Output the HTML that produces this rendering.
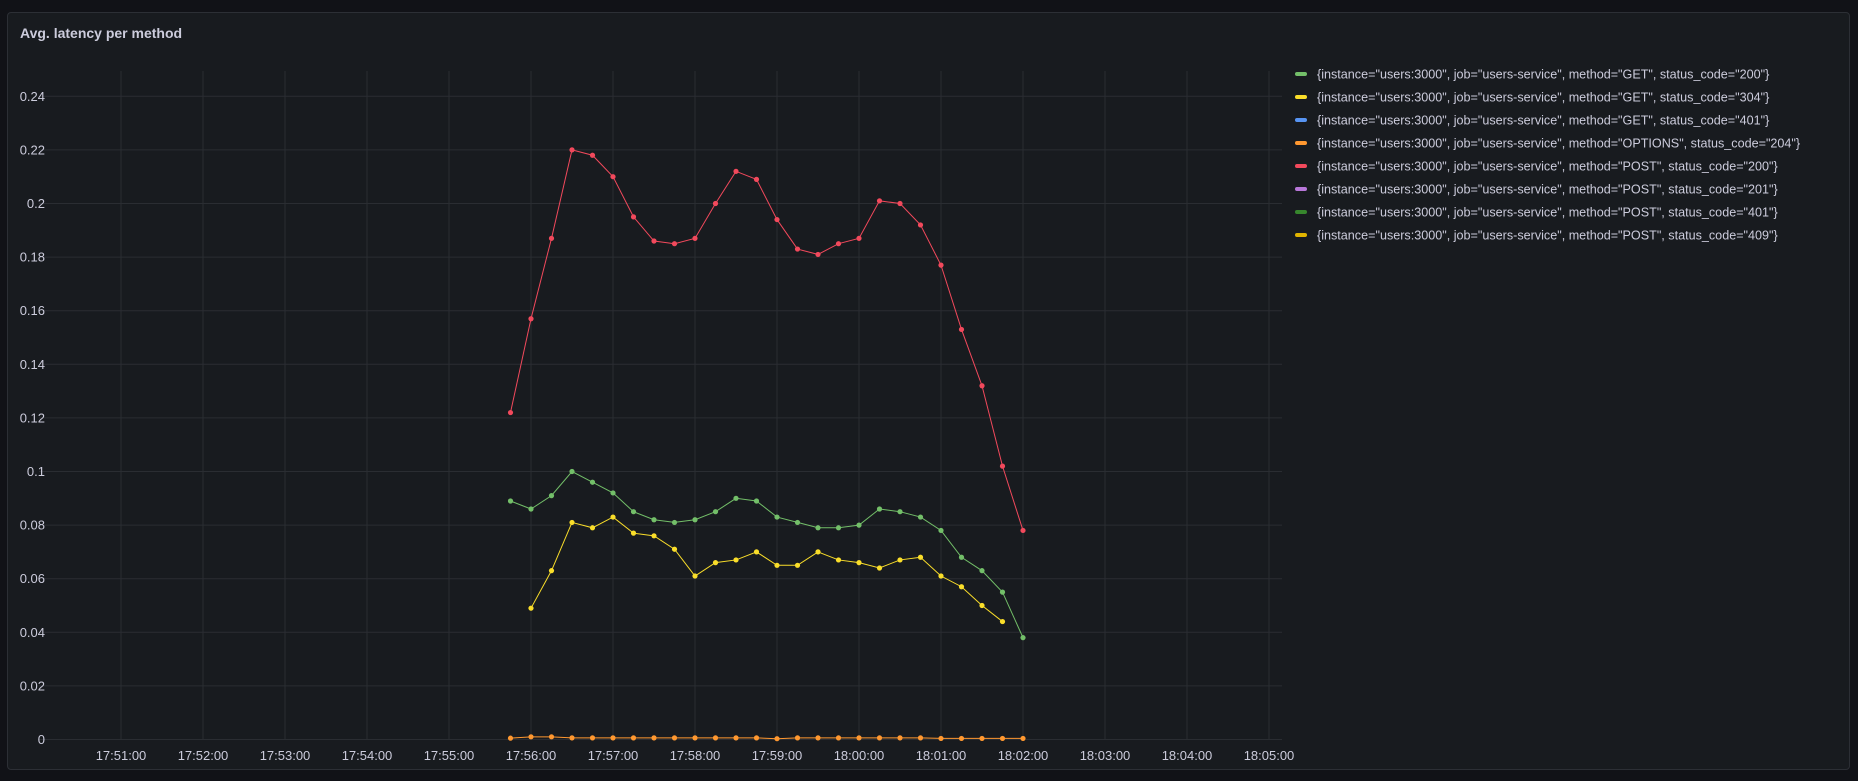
<!DOCTYPE html>
<html><head><meta charset="utf-8"><style>
body{margin:0;background:#111217;width:1858px;height:781px;overflow:hidden;font-family:"Liberation Sans",sans-serif;}
#p{position:absolute;left:7px;top:12px;width:1843px;height:758px;background:#181b1f;border:1px solid #2c2f35;border-radius:4px;box-sizing:border-box}
</style></head><body>
<div id="p"></div>
<svg id="s" width="1858" height="781" style="position:absolute;left:0;top:0" font-family="Liberation Sans, sans-serif"></svg>
<script>
const s=document.getElementById('s');let h='';
h+='<text x="20" y="38" fill="#ccccdc" font-size="14" font-weight="bold">Avg. latency per method</text>';
const Y=v=>739.5-v*2680, X0=121, PM=82;
for(let i=0;i<=12;i++){const v=i*0.02,y=Y(v);h+=`<line x1="39" x2="1282" y1="${y}" y2="${y}" stroke="#2a2d32"/>`;
h+=`<text x="45" y="${y+4.5}" fill="#ccccdc" font-size="13" text-anchor="end">${i==0?'0':+v.toFixed(2)}</text>`;}
const lab=['17:51:00','17:52:00','17:53:00','17:54:00','17:55:00','17:56:00','17:57:00','17:58:00','17:59:00','18:00:00','18:01:00','18:02:00','18:03:00','18:04:00','18:05:00'];
lab.forEach((l,i)=>{const x=X0+i*PM;h+=`<line x1="${x}" x2="${x}" y1="71" y2="740" stroke="#2a2d32"/>`;
h+=`<text x="${x}" y="760" fill="#ccccdc" font-size="13" text-anchor="middle">${l}</text>`;});
const tx=k=>X0+5*PM+(k-1)*PM/4;
function ser(st,vals,c){let pts=vals.map((v,i)=>[tx(st+i),Y(v)]);
h+=`<polyline fill="none" stroke="${c}" stroke-width="1" points="${pts.map(p=>p.join(',')).join(' ')}"/>`;
pts.forEach(p=>h+=`<circle cx="${p[0]}" cy="${p[1]}" r="2.6" fill="${c}"/>`);}
ser(0,[0.0005,0.001,0.001,0.0006,0.0006,0.0006,0.0006,0.0006,0.0006,0.0006,0.0006,0.0006,0.0006,0.0003,0.0006,0.0006,0.0006,0.0006,0.0006,0.0006,0.0006,0.0004,0.0004,0.0004,0.0004,0.0004],'#ff9830');
ser(1,[0.049,0.063,0.081,0.079,0.083,0.077,0.076,0.071,0.061,0.066,0.067,0.070,0.065,0.065,0.070,0.067,0.066,0.064,0.067,0.068,0.061,0.057,0.050,0.044],'#fade2a');
ser(0,[0.089,0.086,0.091,0.100,0.096,0.092,0.085,0.082,0.081,0.082,0.085,0.090,0.089,0.083,0.081,0.079,0.079,0.080,0.086,0.085,0.083,0.078,0.068,0.063,0.055,0.038],'#73bf69');
ser(0,[0.122,0.157,0.187,0.220,0.218,0.210,0.195,0.186,0.185,0.187,0.200,0.212,0.209,0.194,0.183,0.181,0.185,0.187,0.201,0.200,0.192,0.177,0.153,0.132,0.102,0.078],'#f2495c');
const L=[['GET','200','#73bf69'],['GET','304','#fade2a'],['GET','401','#5794f2'],['OPTIONS','204','#ff9830'],['POST','200','#f2495c'],['POST','201','#b877d9'],['POST','401','#37872d'],['POST','409','#e0b400']];
L.forEach((l,i)=>{const y=74+i*23;h+=`<rect x="1295" y="${y-2}" width="12" height="4" rx="2" fill="${l[2]}"/>`;
h+=`<text x="1317" y="${y+4.5}" fill="#ccccdc" font-size="12.6">{instance="users:3000", job="users-service", method="${l[0]}", status_code="${l[1]}"}</text>`;});
s.innerHTML=h;
</script>
</body></html>
